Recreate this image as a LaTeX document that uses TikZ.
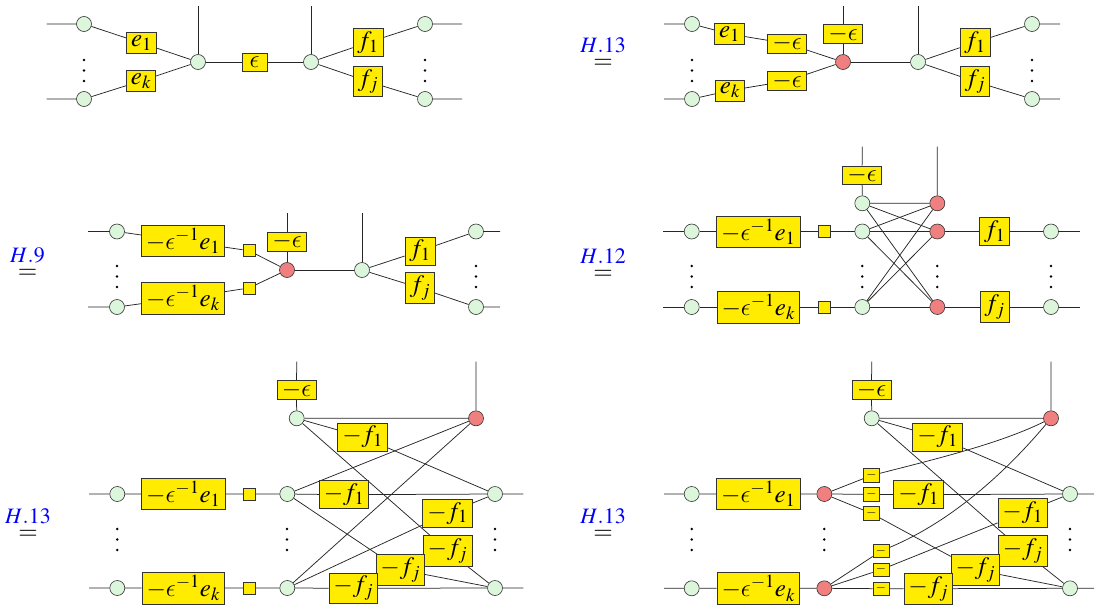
\documentclass[tikz,border=0pt]{standalone}
\usepackage{fix-cm}
\usepackage{mathptmx}
\DeclareSymbolFont{cmlet}{OML}{cmm}{m}{it}
\DeclareMathSymbol{\lepsilon}{\mathord}{cmlet}{"0F}
\usetikzlibrary{backgrounds}
\definecolor{lgreen}{RGB}{220,246,220}
\definecolor{lred}{RGB}{240,128,128}
\definecolor{yel}{RGB}{255,236,0}
\tikzset{
 gn/.style={circle,draw=black!80,line width=0.6pt,fill=lgreen,minimum size=15pt,inner sep=0pt},
 rn/.style={gn,fill=lred},
 bx/.style={rectangle,draw=black!80,line width=0.6pt,fill=yel,inner xsep=4.5pt,inner ysep=3pt,font=\fontsize{25}{28}\selectfont},
 ebx/.style={bx,minimum width=39pt,minimum height=18.5pt,inner ysep=1pt},
 sq/.style={rectangle,draw=black!80,line width=0.6pt,fill=yel,minimum size=12pt,inner sep=0pt},
 mb/.style={rectangle,draw=black!80,line width=0.6pt,fill=yel,minimum width=16pt,minimum height=13.5pt,inner sep=0pt,font=\fontsize{13}{13}\selectfont},
 lbl/.style={anchor=north,inner sep=0pt,font=\fontsize{22}{25}\selectfont},
 wire/.style={draw=black!85,line width=0.75pt},
}
\newcommand\mydots[2]{\fill (#1,#2) circle (1.4pt) (#1,#2+10.5) circle (1.4pt) (#1,#2+21) circle (1.4pt);}
\newcommand\eqlab[1]{\shortstack{\textcolor{blue}{$H.#1$}\\[3pt]{\fontsize{25}{28}\selectfont$=$}}}
\begin{document}
\begin{tikzpicture}[x=1pt,y=-1pt]
\useasboundingbox (0,0) rectangle (1094,605);
% ================= Panel 1 =================
\node[gn] (p1a) at (84,24) {};
\node[gn] (p1b) at (84,99) {};
\node[bx] (p1e1) at (141.5,43) {$e_1$};
\node[bx] (p1ek) at (141,81) {$e_k$};
\node[gn] (p1c) at (198,62) {};
\node[bx,minimum width=25pt,minimum height=18pt,inner ysep=1pt] (p1eps) at (254.5,62) {$\lepsilon$};
\node[gn] (p1d) at (311,62) {};
\node[bx] (p1f1) at (368,42.5) {$f_1$};
\node[bx] (p1fj) at (368,81.5) {$f_j$};
\node[gn] (p1r1) at (425,24) {};
\node[gn] (p1r2) at (425,99) {};
\coordinate (p1L1) at (46.5,24);
\coordinate (p1L2) at (46.5,99);
\coordinate (p1R1) at (462,24);
\coordinate (p1R2) at (462,99);
\coordinate (p1T1) at (198,6);
\coordinate (p1T2) at (311,6);
\mydots{84}{60}
\mydots{425}{60}
% ================= Panel 2 =================
\node[lbl] (L2) at (603,38) {\eqlab{13}};
\node[gn] (q1a) at (692,24) {};
\node[gn] (q1b) at (692,99) {};
\node[bx] (qe1) at (729.5,34) {$e_1$};
\node[bx] (qek) at (730,90.5) {$e_k$};
\node[ebx] (qm1) at (787,43.5) {$-\lepsilon$};
\node[ebx] (qm2) at (787,81) {$-\lepsilon$};
\node[rn] (qc) at (843,62) {};
\node[ebx] (qmt) at (843,34) {$-\lepsilon$};
\node[gn] (qd) at (918,62) {};
\node[bx] (qf1) at (975,42.5) {$f_1$};
\node[bx] (qfj) at (975,81.5) {$f_j$};
\node[gn] (qr1) at (1032,24) {};
\node[gn] (qr2) at (1032,99) {};
\coordinate (q1L1) at (664,24);
\coordinate (q1L2) at (664,99);
\coordinate (q1R1) at (1060,24);
\coordinate (q1R2) at (1060,99);
\coordinate (q1T1) at (843,6);
\coordinate (q1T2) at (918,6);
\mydots{692}{60}
\mydots{1032}{60}
% ================= Panel 3 =================
\node[lbl] (L3) at (27.5,248) {\eqlab{9}};
\node[gn] (r1a) at (117,231.5) {};
\node[gn] (r1b) at (117,307) {};
\node[bx] (re1) at (183,241) {$-\lepsilon^{-1}e_1$};
\node[bx] (rek) at (183,298) {$-\lepsilon^{-1}e_k$};
\node[sq] (rs1) at (249,250.7) {};
\node[sq] (rs2) at (249,288) {};
\node[rn] (rc) at (287,270) {};
\node[ebx] (rmt) at (287,241.5) {$-\lepsilon$};
\node[gn] (rd) at (362,270) {};
\node[bx] (rf1) at (420,251) {$f_1$};
\node[bx] (rfj) at (420,288) {$f_j$};
\node[gn] (rr1) at (476,231.5) {};
\node[gn] (rr2) at (476,307) {};
\coordinate (r1L1) at (88,231.5);
\coordinate (r1L2) at (88,307);
\coordinate (r1R1) at (500,231.5);
\coordinate (r1R2) at (500,307);
\coordinate (r1T1) at (287,213);
\coordinate (r1T2) at (362,213);
\mydots{117}{266}
\mydots{476}{266}
% ================= Panel 4 =================
\node[lbl] (L4) at (603,249) {\eqlab{12}};
\node[gn] (s1a) at (691.7,231.5) {};
\node[gn] (s1b) at (691.7,307) {};
\node[bx] (se1) at (758.3,231.5) {$-\lepsilon^{-1}e_1$};
\node[bx] (sek) at (758.3,307) {$-\lepsilon^{-1}e_k$};
\node[sq] (ss1) at (824.3,231.5) {};
\node[sq] (ss2) at (824.3,307) {};
\node[gn] (sg0) at (862.3,203.3) {};
\node[gn] (sg1) at (862.3,231.5) {};
\node[gn] (sg2) at (862.3,307) {};
\node[ebx] (smt) at (862,175.2) {$-\lepsilon$};
\node[rn] (sr0) at (937.3,203.3) {};
\node[rn] (sr1) at (937.3,231.5) {};
\node[rn] (sr2) at (937.3,307) {};
\node[bx] (sf1) at (994.7,231.5) {$f_1$};
\node[bx] (sfj) at (994.7,307) {$f_j$};
\node[gn] (sR1) at (1051,231.5) {};
\node[gn] (sR2) at (1051,307) {};
\coordinate (s1L1) at (663.3,231.5);
\coordinate (s1L2) at (663.3,307);
\coordinate (s1R1) at (1080,231.5);
\coordinate (s1R2) at (1080,307);
\coordinate (s1T1) at (862.3,146.7);
\coordinate (s1T2) at (937.3,146.7);
\mydots{691.7}{266}
\mydots{862.3}{266}
\mydots{937.3}{266}
\mydots{1051}{266}
% ================= Panel 5 =================
\node[lbl] (L5) at (28,509) {\eqlab{13}};
\node[gn] (t1a) at (117.3,494) {};
\node[gn] (t1b) at (117.3,588) {};
\node[bx] (te1) at (183.3,494) {$-\lepsilon^{-1}e_1$};
\node[bx] (tek) at (183.3,588) {$-\lepsilon^{-1}e_k$};
\node[sq] (ts1) at (249.3,494) {};
\node[sq] (ts2) at (249.3,588) {};
\node[gn] (tg0) at (296.7,418.3) {};
\node[gn] (tg1) at (287.3,494) {};
\node[gn] (tg2) at (287.3,588) {};
\node[ebx] (tmt) at (296.5,390) {$-\lepsilon$};
\node[rn] (tr0) at (476,418.3) {};
\node[gn] (tR1) at (495,494) {};
\node[gn] (tR2) at (495,588) {};
\node[bx] (tf1a) at (362.5,437) {$-f_1$};
\node[bx] (tf1b) at (344,494.7) {$-f_1$};
\node[bx] (tf1c) at (447.5,513.3) {$-f_1$};
\node[bx] (tfja) at (447.5,550.7) {$-f_j$};
\node[bx] (tfjb) at (400.3,569.7) {$-f_j$};
\node[bx] (tfjc) at (353.3,588.3) {$-f_j$};
\coordinate (t1L1) at (89,494);
\coordinate (t1L2) at (89,588);
\coordinate (t1R1) at (523.3,494);
\coordinate (t1R2) at (523.3,588);
\coordinate (t1T1) at (296.7,361.7);
\coordinate (t1T2) at (476,361.7);
\mydots{117.3}{529}
\mydots{287}{529}
\mydots{495}{529}
% ================= Panel 6 =================
\node[lbl] (L6) at (603,509) {\eqlab{13}};
\node[gn] (u1a) at (691.7,494) {};
\node[gn] (u1b) at (691.7,588.3) {};
\node[bx] (ue1) at (758.3,494) {$-\lepsilon^{-1}e_1$};
\node[bx] (uek) at (758.3,588.3) {$-\lepsilon^{-1}e_k$};
\node[rn] (uc1) at (824.3,494) {};
\node[rn] (uc2) at (824.3,588.3) {};
\node[mb] (um1) at (871.3,475.5) {$-$};
\node[mb] (um2) at (871.3,494.3) {$-$};
\node[mb] (um3) at (871.3,513.3) {$-$};
\node[mb] (um4) at (881,551) {$-$};
\node[mb] (um5) at (881,569.7) {$-$};
\node[mb] (um6) at (881,588.7) {$-$};
\node[gn] (ug0) at (871.7,418.3) {};
\node[ebx] (umt) at (871.5,390) {$-\lepsilon$};
\node[rn] (ur0) at (1051,418.3) {};
\node[gn] (uR1) at (1070,494) {};
\node[gn] (uR2) at (1070,588.3) {};
\node[bx] (uf1a) at (937.5,437) {$-f_1$};
\node[bx] (uf1b) at (918.5,494.7) {$-f_1$};
\node[bx] (uf1c) at (1022.7,512.8) {$-f_1$};
\node[bx] (ufja) at (1022.7,550.7) {$-f_j$};
\node[bx] (ufjb) at (975.3,569.7) {$-f_j$};
\node[bx] (ufjc) at (928.3,588.7) {$-f_j$};
\coordinate (u1L1) at (664,494);
\coordinate (u1L2) at (664,588.3);
\coordinate (u1R1) at (1094,494);
\coordinate (u1R2) at (1094,588.3);
\coordinate (u1T1) at (871.7,361.7);
\coordinate (u1T2) at (1051,361.7);
\mydots{691.7}{529}
\mydots{824.3}{529}
\mydots{1070}{529}
% ================= wires =================
\begin{pgfonlayer}{background}
% panel 1
\draw[wire] (p1L1)--(p1a)--(p1e1)--(p1c);
\draw[wire] (p1L2)--(p1b)--(p1ek)--(p1c);
\draw[wire] (p1T1)--(p1c)--(p1eps)--(p1d)--(p1T2);
\draw[wire] (p1d)--(p1f1)--(p1r1)--(p1R1);
\draw[wire] (p1d)--(p1fj)--(p1r2)--(p1R2);
% panel 2
\draw[wire] (q1L1)--(q1a)--(qe1)--(qm1)--(qc);
\draw[wire] (q1L2)--(q1b)--(qek)--(qm2)--(qc);
\draw[wire] (q1T1)--(qmt)--(qc)--(qd)--(q1T2);
\draw[wire] (qd)--(qf1)--(qr1)--(q1R1);
\draw[wire] (qd)--(qfj)--(qr2)--(q1R2);
% panel 3
\draw[wire] (r1L1)--(r1a)--(re1)--(rs1)--(rc);
\draw[wire] (r1L2)--(r1b)--(rek)--(rs2)--(rc);
\draw[wire] (r1T1)--(rmt)--(rc)--(rd)--(r1T2);
\draw[wire] (rd)--(rf1)--(rr1)--(r1R1);
\draw[wire] (rd)--(rfj)--(rr2)--(r1R2);
% panel 4
\draw[wire] (s1L1)--(s1a)--(se1)--(ss1)--(sg1)--(sr1)--(sf1)--(sR1)--(s1R1);
\draw[wire] (s1L2)--(s1b)--(sek)--(ss2)--(sg2)--(sr2)--(sfj)--(sR2)--(s1R2);
\draw[wire] (s1T1)--(smt)--(sg0)--(sr0)--(s1T2);
\draw[wire] (sg0)--(sr1) (sg0)--(sr2);
\draw[wire] (sg1)--(sr0) (sg1)--(sr2);
\draw[wire] (sg2)--(sr0) (sg2)--(sr1);
% panel 5
\draw[wire] (t1L1)--(t1a)--(te1)--(ts1)--(tg1)--(tf1b)--(tR1)--(t1R1);
\draw[wire] (t1L2)--(t1b)--(tek)--(ts2)--(tg2)--(tfjc)--(tR2)--(t1R2);
\draw[wire] (t1T1)--(tmt)--(tg0)--(tr0)--(t1T2);
\draw[wire] (tg0)--(tf1a)--(tR1);
\draw[wire] (tg0)--(tfja)--(tR2);
\draw[wire] (tr0)--(tg1) (tr0)--(tg2);
\draw[wire] (tg1)--(tfjb)--(tR2);
\draw[wire] (tg2)--(tf1c)--(tR1);
% panel 6
\draw[wire] (u1L1)--(u1a)--(ue1)--(uc1)--(um2)--(uf1b)--(uR1)--(u1R1);
\draw[wire] (u1L2)--(u1b)--(uek)--(uc2)--(um6)--(ufjc)--(uR2)--(u1R2);
\draw[wire] (u1T1)--(umt)--(ug0)--(ur0)--(u1T2);
\draw[wire] (ug0)--(uf1a)--(uR1);
\draw[wire] (ug0)--(ufja)--(uR2);
\draw[wire] (uc1)--(um1) .. controls (940,458) and (1001,443) .. (ur0);
\draw[wire] (uc1)--(um3)--(ufjb)--(uR2);
\draw[wire] (uc2)--(um4) .. controls (960,518) and (1016,460) .. (ur0);
\draw[wire] (uc2)--(um5)--(uf1c)--(uR1);
\end{pgfonlayer}
\end{tikzpicture}
\end{document}
